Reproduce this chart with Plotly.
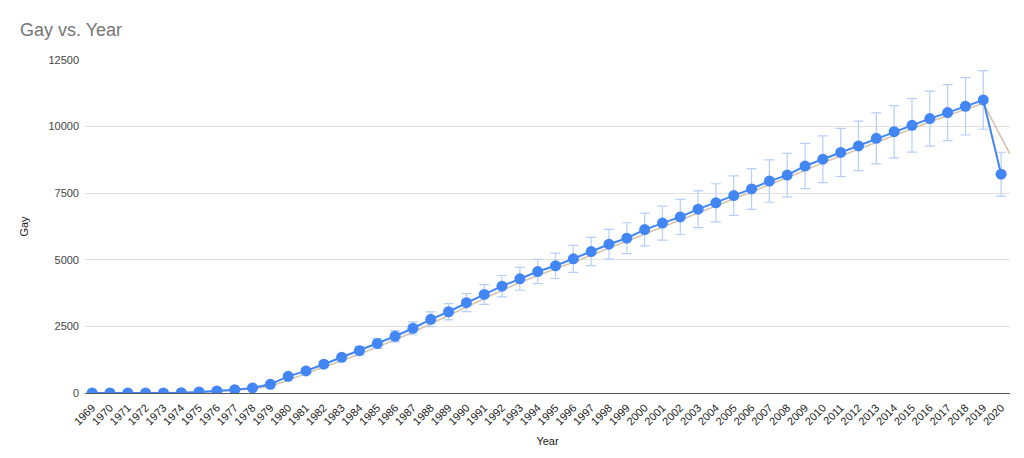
import plotly.graph_objects as go

years = list(range(1969, 2021))
gay = [0, 0, 0, 0, 0, 12, 37, 75, 125, 190, 325, 625, 830, 1080, 1340, 1590,
       1860, 2130, 2430, 2765, 3050, 3390, 3700, 4010, 4285, 4560, 4775, 5035,
       5310, 5585, 5810, 6135, 6380, 6610, 6900, 7140, 7410, 7660, 7955, 8180,
       8520, 8775, 9030, 9275, 9560, 9810, 10050, 10300, 10525, 10760, 11000, 8215]
error_percent = 10
ma_period = 2
x_range = [1968.6, 2020.5]
y_ticks = [0, 2500, 5000, 7500, 10000, 12500]

# moving-average trendline (period 2), extended linearly to the axis edge
tx = years[ma_period - 1:]
ty = [sum(gay[i - ma_period + 1:i + 1]) / ma_period for i in range(ma_period - 1, len(gay))]
slope = (ty[-1] - ty[-2]) / (tx[-1] - tx[-2])
tx = tx + [x_range[1]]
ty = ty + [ty[-1] + slope * (x_range[1] - tx[-2])]

font_family = "Arial, Liberation Sans, sans-serif"

# the page body has an 8px default margin, so the figure is 8px smaller
W, H = 1016, 450

fig = go.Figure()
fig.add_trace(go.Scatter(
    x=tx, y=ty, mode="lines",
    line=dict(color="#d5c3ad", width=1.6),
    hoverinfo="skip", showlegend=False,
))
fig.add_trace(go.Scatter(
    x=years, y=gay, mode="lines+markers",
    line=dict(color="#4285f4", width=2),
    marker=dict(color="#4285f4", size=11),
    error_y=dict(type="percent", value=error_percent, color="#b5cefa", thickness=1.2, width=5),
    showlegend=False, name="Gay",
))

fig.update_layout(
    width=W, height=H,
    margin=dict(l=77, r=14, t=52, b=65),
    paper_bgcolor="white", plot_bgcolor="white",
    font=dict(family=font_family, color="#222222"),
    title=dict(text="Gay vs. Year", x=12 / W, xanchor="left", xref="container",
               y=1 - 22 / H, yanchor="middle", yref="container",
               font=dict(size=18, color="#757575", family=font_family)),
    showlegend=False,
)
fig.update_xaxes(
    range=x_range, tickmode="array", tickvals=years, ticktext=[str(y) for y in years],
    tickangle=-45, tickfont=dict(size=11, color="#222222"), automargin=False,
    ticklabelstandoff=3,
    showgrid=False, zeroline=False, showline=True, linecolor="#555555", linewidth=1,
    title=dict(text="Year", font=dict(size=11, color="#222222"), standoff=10),
)
fig.update_yaxes(
    range=[0, 12500], tickmode="array", tickvals=y_ticks,
    ticktext=[str(v) for v in y_ticks], automargin=False,
    tickfont=dict(size=11, color="#444444"), ticklabelstandoff=5,
    showgrid=True, gridcolor="#e0e0e0", gridwidth=1,
    zeroline=True, zerolinecolor="#555555", zerolinewidth=1,
    title=dict(text="Gay", font=dict(size=11, color="#222222"), standoff=17),
)

fig.write_html("out.html")
